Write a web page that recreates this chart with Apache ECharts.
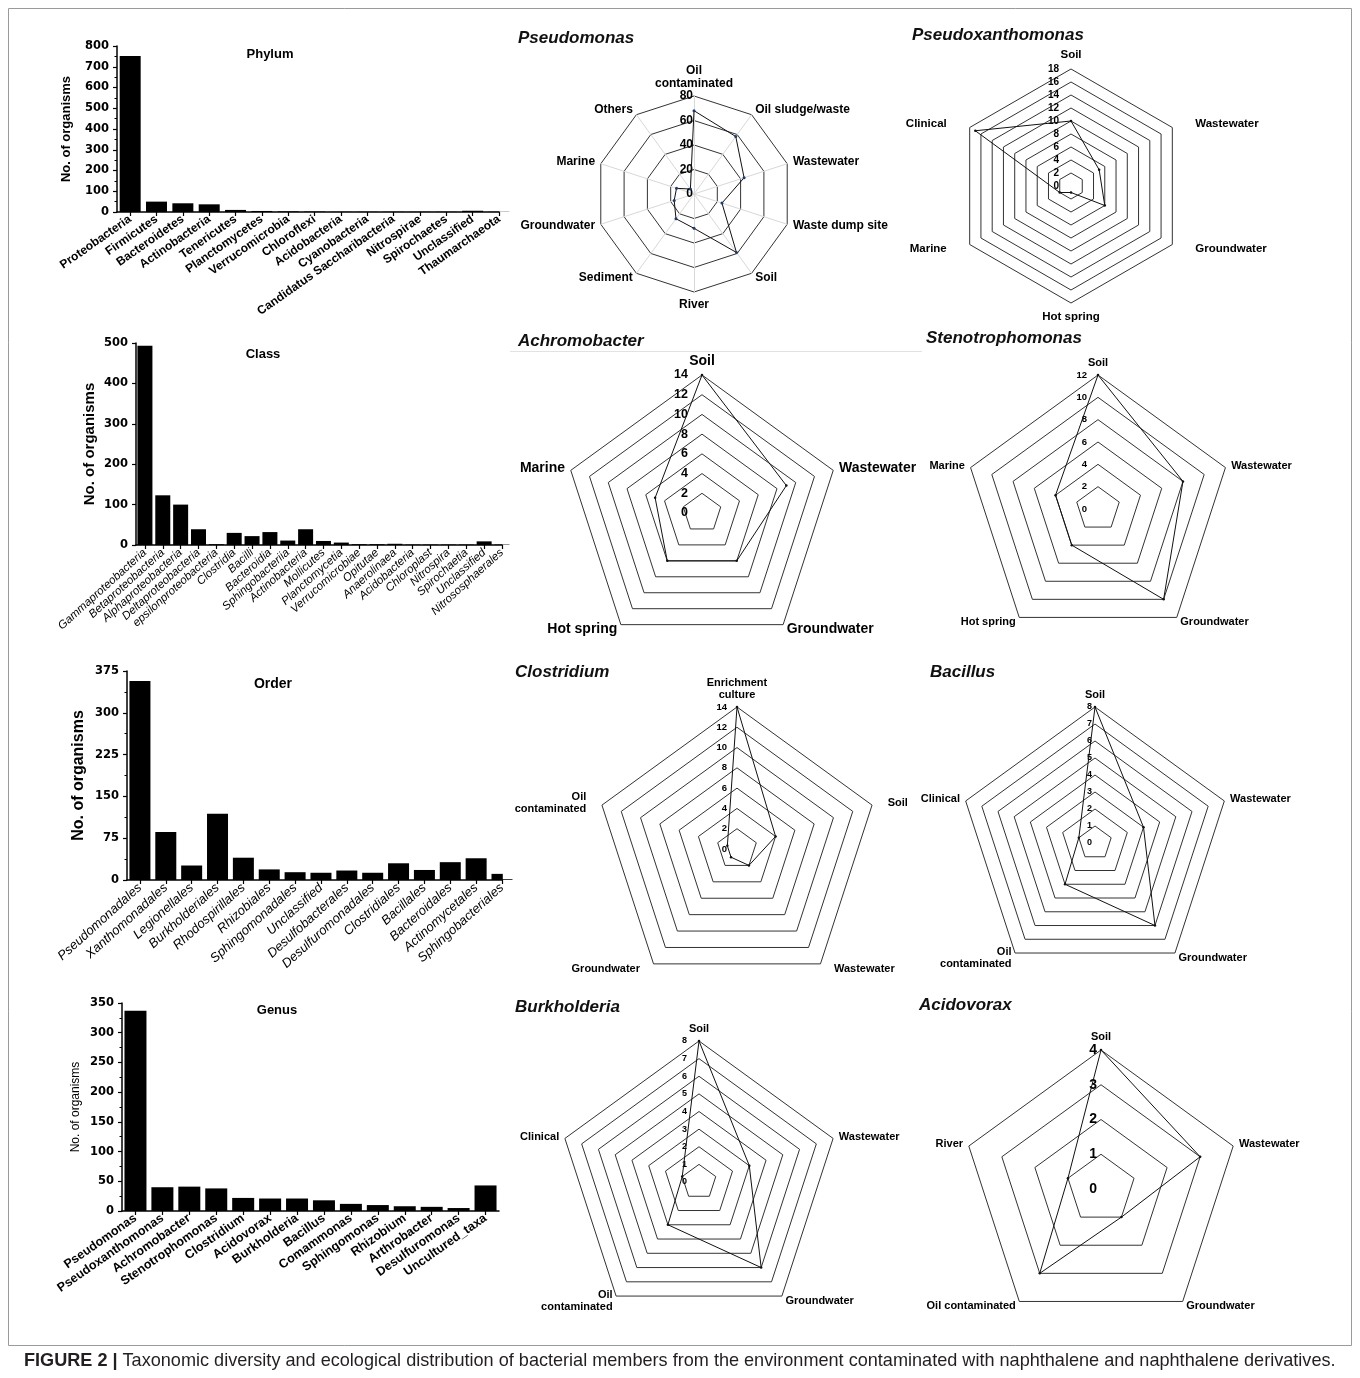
<!DOCTYPE html>
<html><head><meta charset="utf-8">
<script src="https://cdn.jsdelivr.net/npm/echarts@6/dist/echarts.min.js"></script>
<style>html,body{margin:0;padding:0;background:#fff}#c{width:1360px;height:1378px}</style>
</head><body><div id="c"></div>
<script>
// ---------- Bar chart data ----------
const phylumCats = ['Proteobacteria','Firmicutes','Bacteroidetes','Actinobacteria','Tenericutes','Planctomycetes','Verrucomicrobia','Chloroflexi','Acidobacteria','Cyanobacteria','Candidatus Saccharibacteria','Nitrospirae','Spirochaetes','Unclassified','Thaumarchaeota'];
const phylumVals = [752, 50, 42, 37, 10, 5, 3, 2, 1, 1, 1, 1, 1, 6, 1];

const classCats = ['Gammaproteobacteria','Betaproteobacteria','Alphaproteobacteria','Deltaproteobacteria','epsilonproteobacteria','Clostridia','Bacilli','Bacteroidia','Sphingobacteriia','Actinobacteria','Mollicutes','Planctomycetia','Verrucomicrobiae','Opitutae','Anaerolinaea','Acidobacteria','Chloroplast','Nitrospira','Spirochaetia','Unclassified','Nitrososphaerales'];
const classVals = [493, 123, 100, 39, 2, 30, 22, 32, 11, 39, 10, 6, 2, 2, 3, 1, 1, 1, 1, 9, 1];

const orderCats = ['Pseudomonadales','Xanthomonadales','Legionellales','Burkholderiales','Rhodospirillales','Rhizobiales','Sphingomonadales','Unclassified','Desulfobacterales','Desulfuromonadales','Clostridiales','Bacillales','Bacteroidales','Actinomycetales','Sphingobacteriales'];
const orderVals = [357, 86, 26, 119, 40, 19, 14, 13, 17, 13, 30, 18, 32, 39, 11];

const genusCats = ['Pseudomonas','Pseudoxanthomonas','Achromobacter','Stenotrophomonas','Clostridium','Acidovorax','Burkholderia','Bacillus','Comammonas','Sphingomonas','Rhizobium','Arthrobacter','Desulfuromonas','Uncultured_taxa'];
const genusVals = [337, 40, 41, 38, 22, 21, 21, 18, 12, 10, 8, 7, 5, 43];

// ---------- Radar data (clockwise from top) ----------
const pseudomonasAxes = ['Oil\ncontaminated','Oil sludge/waste','Wastewater','Waste dump site','Soil','River','Sediment','Groundwater','Marine','Others'];
const pseudomonasVals = [68, 58, 43, 24, 59, 28, 25, 17, 15, 5];

const pseudoxanthomonasAxes = ['Soil','Wastewater','Groundwater','Hot spring','Marine','Clinical'];
const pseudoxanthomonasVals = [10, 5, 6, 1, 2, 17];

const achromobacterAxes = ['Soil','Wastewater','Groundwater','Hot spring','Marine'];
const achromobacterVals = [14, 9, 6, 6, 5];

const stenotrophomonasAxes = ['Soil','Wastewater','Groundwater','Hot spring','Marine'];
const stenotrophomonasVals = [12, 8, 10, 4, 4];

const clostridiumAxes = ['Enrichment\nculture','Soil','Wastewater','Groundwater','Oil\ncontaminated'];
const clostridiumVals = [14, 4, 2, 1, 1];

const bacillusAxes = ['Soil','Wastewater','Groundwater','Oil\ncontaminated','Clinical'];
const bacillusVals = [8, 3, 6, 3, 1];

const burkholderiaAxes = ['Soil','Wastewater','Groundwater','Oil\ncontaminated','Clinical'];
const burkholderiaVals = [8, 3, 6, 3, 1];

const acidovoraxAxes = ['Soil','Wastewater','Groundwater','Oil contaminated','River'];
const acidovoraxVals = [4, 3, 1, 3, 1];

// ---------- helpers ----------
const FONT = 'Liberation Sans, Arial, sans-serif';
const cw = a => [a[0]].concat(a.slice(1).reverse()); // echarts radar goes counter-clockwise

const grids = [], xAxes = [], yAxes = [], series = [], radars = [], graphics = [];

function barBlock(cats, vals, g) {
  const i = grids.length;
  const idx = cats.map((c, k) => k);
  grids.push({left: g.left, top: g.top, width: g.width, height: g.height});
  xAxes.push({
    gridIndex: i, type: 'value', min: -0.5, max: g.xmax,
    axisLine: {show: true, onZero: false, lineStyle: {color: '#000', width: 1.5}},
    axisTick: {show: true, customValues: idx, length: 4, lineStyle: {color: '#000', width: 1.2}},
    axisLabel: Object.assign({customValues: idx, formatter: v => cats[Math.round(v)], rotate: g.rotate, margin: 6, color: '#000', fontFamily: FONT}, g.xLabel),
    splitLine: {show: false}
  });
  yAxes.push({
    gridIndex: i, type: 'value', min: 0, max: g.ymax, interval: g.yint,
    axisLine: {show: true, onZero: false, lineStyle: {color: '#000', width: 1.5}},
    axisTick: {show: true, length: 4, lineStyle: {color: '#000', width: 1.2}},
    minorTick: {show: g.minor, splitNumber: 2, length: 2.5, lineStyle: {color: '#000'}},
    axisLabel: {fontFamily: 'DejaVu Sans', fontWeight: 'bold', fontSize: 11.5, color: '#000', margin: 8},
    splitLine: {show: false},
    name: 'No. of organisms', nameLocation: 'middle', nameGap: g.nameGap,
    nameTextStyle: Object.assign({color: '#000', fontFamily: FONT}, g.yName)
  });
  series.push({
    type: 'bar', xAxisIndex: i, yAxisIndex: i, barWidth: g.barWidth, clip: true,
    data: vals.map((v, k) => [k, v]), itemStyle: {color: '#000'}, silent: true
  });
  graphics.push({type: 'text', x: g.tx, y: g.ty, style: {text: g.title, fontSize: g.tsize || 13, fontWeight: 'bold', fontFamily: FONT, fill: '#000', align: 'center', verticalAlign: 'middle'}});
}

barBlock(phylumCats, phylumVals, {left: 117, top: 46, width: 382, height: 166, xmax: 14, ymax: 800, yint: 100, minor: true, barWidth: 21,
  rotate: 35, xLabel: {fontWeight: 'bold', fontSize: 12}, nameGap: 44, yName: {fontWeight: 'bold', fontSize: 13}, title: 'Phylum', tx: 270, ty: 54});
barBlock(classCats, classVals, {left: 136, top: 343, width: 366, height: 202, xmax: 20, ymax: 500, yint: 100, minor: false, barWidth: 15,
  rotate: 42, xLabel: {fontStyle: 'italic', fontSize: 11.5}, nameGap: 39, yName: {fontWeight: 'bold', fontSize: 15}, title: 'Class', tx: 263, ty: 354});
barBlock(orderCats, orderVals, {left: 127, top: 671, width: 375, height: 209, xmax: 14, ymax: 375, yint: 75, minor: true, barWidth: 21,
  rotate: 42, xLabel: {fontStyle: 'italic', fontSize: 13}, nameGap: 40, yName: {fontWeight: 'bold', fontSize: 16}, title: 'Order', tx: 273, ty: 684, tsize: 14});
barBlock(genusCats, genusVals, {left: 122, top: 1003, width: 377, height: 208, xmax: 13.5, ymax: 350, yint: 50, minor: true, barWidth: 22,
  rotate: 35, xLabel: {fontWeight: 'bold', fontSize: 12.5}, nameGap: 40, yName: {fontSize: 12}, title: 'Genus', tx: 277, ty: 1010});

function radarBlock(title, tpos, axes, vals, r) {
  const k = radars.length;
  const ind = cw(axes).map((n, j) => {
    const o = {name: n, min: 0, max: r.max};
    if (j === 0) o.axisLabel = {show: true};
    return o;
  });
  radars.push({
    center: r.center, radius: r.radius, startAngle: 90, shape: 'polygon', splitNumber: r.split,
    indicator: ind, nameGap: r.nameGap,
    axisName: {color: '#000', fontWeight: 'bold', fontSize: r.nameSize, fontFamily: FONT, lineHeight: r.nameSize + 1, padding: [0, r.namePad || 0]},
    axisLine: {show: !!r.spokes, lineStyle: {color: '#d8d8d8', width: 1}},
    axisTick: {show: false},
    axisLabel: {show: false, color: '#000', fontWeight: 'bold', fontSize: r.labelSize, fontFamily: FONT, margin: r.labelMargin},
    splitLine: {lineStyle: {color: '#333', width: 1}},
    splitArea: {show: false}
  });
  series.push({
    type: 'radar', radarIndex: k, silent: true, symbol: 'circle', symbolSize: r.sym || 2.5,
    lineStyle: {color: '#111', width: 1}, itemStyle: {color: r.dot || '#111'},
    data: [{value: cw(vals)}]
  });
  graphics.push({type: 'text', x: tpos[0], y: tpos[1], style: {text: title, fontSize: 17, fontWeight: 'bold', fontStyle: 'italic', fontFamily: FONT, fill: '#111', align: 'left', verticalAlign: 'middle'}});
}

radarBlock('Pseudomonas', [518, 38], pseudomonasAxes, pseudomonasVals, {center: [694, 194], radius: 98, max: 80, split: 4, nameGap: 6, nameSize: 12, labelSize: 12, labelMargin: 1, spokes: true, dot: '#1f3a6e', sym: 3});
radarBlock('Pseudoxanthomonas', [912, 35], pseudoxanthomonasAxes, pseudoxanthomonasVals, {center: [1071, 186], radius: 117, max: 18, split: 9, nameGap: 8, nameSize: 11.5, labelSize: 10, labelMargin: 12, namePad: 16});
radarBlock('Achromobacter', [518, 341], achromobacterAxes, achromobacterVals, {center: [702, 513], radius: 138, max: 14, split: 7, nameGap: 6, nameSize: 14, labelSize: 12.5, labelMargin: 14});
radarBlock('Stenotrophomonas', [926, 338], stenotrophomonasAxes, stenotrophomonasVals, {center: [1098, 509], radius: 134, max: 12, split: 6, nameGap: 6, nameSize: 11, labelSize: 9.5, labelMargin: 11});
radarBlock('Clostridium', [515, 672], clostridiumAxes, clostridiumVals, {center: [737, 849], radius: 142, max: 14, split: 7, nameGap: 6, nameSize: 11, labelSize: 9.5, labelMargin: 10, namePad: 10});
radarBlock('Bacillus', [930, 672], bacillusAxes, bacillusVals, {center: [1095, 843], radius: 136, max: 8, split: 8, nameGap: 6, nameSize: 11, labelSize: 9, labelMargin: 3});
radarBlock('Burkholderia', [515, 1007], burkholderiaAxes, burkholderiaVals, {center: [699, 1182], radius: 141, max: 8, split: 8, nameGap: 6, nameSize: 11, labelSize: 9, labelMargin: 12});
radarBlock('Acidovorax', [919, 1005], acidovoraxAxes, acidovoraxVals, {center: [1101, 1189], radius: 139, max: 4, split: 4, nameGap: 6, nameSize: 11, labelSize: 14, labelMargin: 4});

// frame, divider, caption
graphics.push({type: 'rect', shape: {x: 8.5, y: 8.5, width: 1343, height: 1337}, style: {fill: 'none', stroke: '#9a9a9a', lineWidth: 1}, z: -1});
graphics.push({type: 'line', shape: {x1: 510, y1: 351.5, x2: 922, y2: 351.5}, style: {stroke: '#e2e2e2', lineWidth: 1}});
graphics.push({type: 'text', x: 24, y: 1361, style: {
  text: '{b|FIGURE 2 |} Taxonomic diversity and ecological distribution of bacterial members from the environment contaminated with naphthalene and naphthalene derivatives.',
  fontSize: 18.1, fontFamily: FONT, fill: '#231f20', align: 'left', verticalAlign: 'middle',
  rich: {b: {fontWeight: 'bold', fontSize: 18.1, fontFamily: FONT, fill: '#231f20'}}
}});

const chart = echarts.init(document.getElementById('c'), null, {renderer: 'canvas'});
chart.setOption({
  animation: false, backgroundColor: '#fff',
  grid: grids, xAxis: xAxes, yAxis: yAxes, radar: radars, series: series, graphic: graphics
});

// The Order panel's plot area ends at its last category, so the last bar is cut at the axis end.
const orderEnd = chart.convertToPixel({gridIndex: 2}, [orderCats.length - 1, 0]);
const orderTop = chart.convertToPixel({gridIndex: 2}, [0, 375]);
graphics.push({type: 'rect', z: 100, shape: {x: orderEnd[0] + 0.8, y: orderTop[1], width: 12, height: orderEnd[1] - orderTop[1] - 0.8}, style: {fill: '#fff'}});
chart.setOption({graphic: graphics});
</script></body></html>
